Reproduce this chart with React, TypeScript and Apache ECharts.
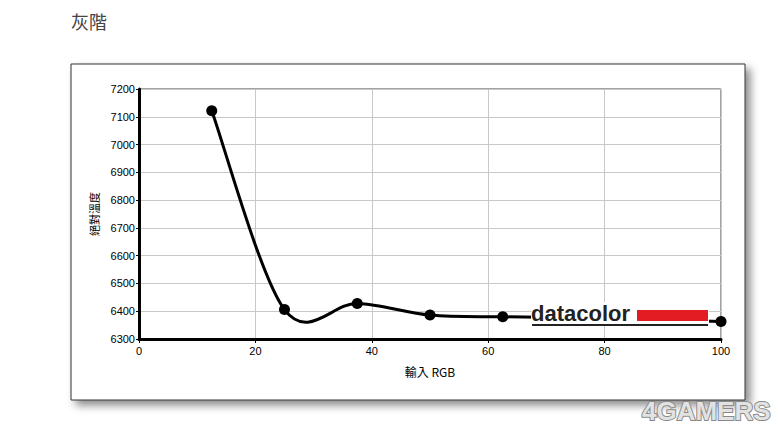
import React, { useEffect, useRef } from "react";
import * as echarts from "echarts";

const inputRGB = [12.5, 25, 37.5, 50, 62.5, 75, 87.5, 100];
const colorTemp = [7122, 6406, 6428, 6386, 6380, 6376, 6370, 6363];
const titleText = "灰階";
const xName = "輸入 RGB";
const yName = "絕對溫度";

export default function App() {
  const ref = useRef<HTMLDivElement>(null);
  useEffect(() => {
    const chart = echarts.init(ref.current!, null, { renderer: "svg" });
    const font = "'Liberation Sans', 'DejaVu Sans', sans-serif";
    const points = inputRGB.map((x, i) => [x, colorTemp[i]]);
    chart.setOption({
      animation: false,
      backgroundColor: "#fff",
      title: {
        text: titleText,
        left: 66,
        top: 7,
        textStyle: { fontSize: 18, fontWeight: "normal", color: "#444", fontFamily: "'Noto Sans CJK TC', sans-serif" },
      },
      grid: {
        left: 139,
        top: 89,
        width: 582,
        height: 250,
        show: true,
        borderColor: "#444",
        borderWidth: 1,
        backgroundColor: "#fff",
        z: 0,
      },
      xAxis: {
        type: "value",
        z: 4,
        min: 0,
        max: 100,
        interval: 20,
        name: xName,
        nameLocation: "middle",
        nameGap: 26,
        nameTextStyle: { fontSize: 12, color: "#000", fontFamily: "'Noto Sans CJK TC', " + font },
        axisLine: { show: true, onZero: false, lineStyle: { color: "#000", width: 3 } },
        axisTick: { show: true, length: 4, lineStyle: { color: "#000" } },
        axisLabel: { fontSize: 11, color: "#000", margin: 6, fontFamily: font },
        splitLine: { show: true, lineStyle: { color: "#c8c8c8", width: 1 } },
      },
      yAxis: {
        type: "value",
        z: 4,
        min: 6300,
        max: 7200,
        interval: 100,
        name: yName,
        nameLocation: "middle",
        nameRotate: 90,
        nameGap: 38,
        nameTextStyle: { fontSize: 11, color: "#000", fontFamily: "'Noto Sans CJK TC', sans-serif" },
        axisLine: { show: true, lineStyle: { color: "#000", width: 3 } },
        axisTick: { show: true, length: 3, lineStyle: { color: "#000" } },
        axisLabel: { fontSize: 11, color: "#000", margin: 4, fontFamily: font, formatter: (v: number) => String(v) },
        splitLine: { show: true, lineStyle: { color: "#c8c8c8", width: 1 } },
      },
      series: [
        {
          type: "custom",
          data: points,
          z: 5,
          clip: false,
          renderItem: (params: any, api: any) => {
            if (params.dataIndex !== 0) return null;
            const p = points.map((pt) => api.coord(pt));
            let d = `M${p[0][0]},${p[0][1]}`;
            for (let i = 0; i < p.length - 1; i++) {
              const p0 = p[i - 1] || p[i];
              const p1 = p[i];
              const p2 = p[i + 1];
              const p3 = p[i + 2] || p2;
              const c1x = p1[0] + (p2[0] - p0[0]) / 6;
              const c1y = p1[1] + (p2[1] - p0[1]) / 6;
              const c2x = p2[0] - (p3[0] - p1[0]) / 6;
              const c2y = p2[1] - (p3[1] - p1[1]) / 6;
              d += ` C${c1x},${c1y} ${c2x},${c2y} ${p2[0]},${p2[1]}`;
            }
            return {
              type: "path",
              shape: { pathData: d },
              style: { fill: "none", stroke: "#000", lineWidth: 3 },
            };
          },
        },
        {
          type: "scatter",
          data: points,
          symbol: "circle",
          symbolSize: 11,
          itemStyle: { color: "#000", opacity: 1 },
          z: 6,
        },
      ],
      graphic: [
        {
          type: "rect",
          shape: { x: 71, y: 64, width: 674, height: 336 },
          style: {
            fill: "#fff",
            stroke: "#333",
            lineWidth: 1,
            shadowBlur: 8,
            shadowOffsetX: 5,
            shadowOffsetY: 5,
            shadowColor: "rgba(0,0,0,0.45)",
          },
          z: -10,
          silent: true,
        },
        {
          type: "rect",
          shape: { x: 531, y: 302, width: 178, height: 22 },
          style: { fill: "#fff" },
          z: 100,
          silent: true,
        },
        {
          type: "text",
          x: 531,
          y: 313,
          style: {
            text: "datacolor",
            fontSize: 22,
            fontWeight: "bold",
            fontFamily: "'Liberation Sans', sans-serif",
            fill: "#222",
            verticalAlign: "middle",
          },
          z: 101,
          silent: true,
        },
        {
          type: "rect",
          shape: { x: 637, y: 310, width: 71, height: 11 },
          style: { fill: "#e31b23" },
          z: 101,
          silent: true,
        },
        {
          type: "line",
          shape: { x1: 532, y1: 325, x2: 708, y2: 325 },
          style: { stroke: "#222", lineWidth: 2 },
          z: 101,
          silent: true,
        },
        {
          type: "text",
          x: 642,
          y: 411,
          style: {
            text: "4GAMERS",
            fontSize: 26,
            fontWeight: "bold",
            fontFamily: "'Liberation Sans', sans-serif",
            fill: "#e2e2e2",
            stroke: "#8a8a8a",
            lineWidth: 2,
            verticalAlign: "middle",
          },
          z: 101,
          silent: true,
        },
      ],
    });
    return () => chart.dispose();
  }, []);
  return <div ref={ref} style={{ position: "fixed", left: 0, top: 0, width: 778, height: 425 }} />;
}
